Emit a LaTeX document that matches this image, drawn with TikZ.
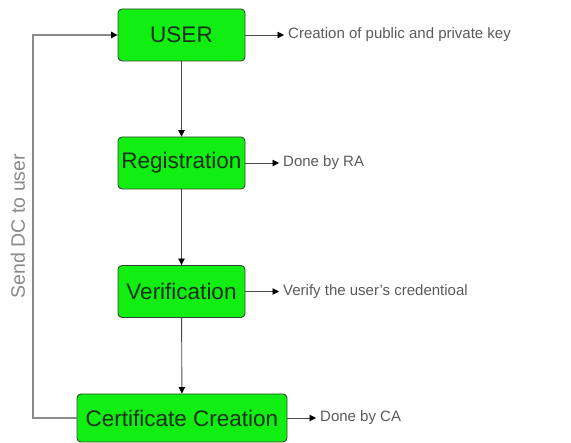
\documentclass[tikz,border=0pt]{standalone}
\usepackage{fontspec}
\setmainfont{Liberation Sans}
\usetikzlibrary{arrows.meta}
\definecolor{boxgreen}{HTML}{11EE11}
\definecolor{boxedge}{HTML}{2E4A2E}
\definecolor{boxtext}{HTML}{143014}
\definecolor{notetext}{HTML}{5A5A5A}
\definecolor{wire}{HTML}{4A4A4A}
\definecolor{loopwire}{HTML}{8A8A8A}
\tikzset{
  stage/.style={draw=boxedge, line width=0.9pt, fill=boxgreen, rounded corners=4pt,
    text=boxtext, font=\fontsize{22.5}{24}\selectfont, inner sep=0pt,
    minimum width=127pt, minimum height=52pt},
  note/.style={text=notetext, font=\fontsize{15}{17}\selectfont, anchor=west, inner sep=4pt},
  flow/.style={draw=wire, line width=0.9pt, -{Triangle[length=6.5pt,width=6.5pt,color=black]}},
  back/.style={draw=loopwire, line width=1.4pt, -{Triangle[length=6.5pt,width=6.5pt,color=black]}},
}
\begin{document}
\begin{tikzpicture}[x=1pt, y=-1pt]
\useasboundingbox (0,0) rectangle (571,443);

% processing stages
\node[stage] (user) at (181.5,35) {USER};
\node[stage] (reg)  at (181.5,163) {Registration};
\node[stage] (ver)  at (181.5,291.5) {Verification};
\node[stage, minimum width=210pt, minimum height=48pt] (cert) at (182,418) {Certificate Creation};

% side notes
\node[note] (n1) at (284,35) {Creation of public and private key};
\node[note] (n2) at (279,163) {Done by RA};
\node[note] (n3) at (279,291.5) {Verify the user{\char"27}s credentioal};
\node[note] (n4) at (316,418) {Done by CA};

% main flow
\draw[flow] (user) -- (reg);
\draw[flow] (reg) -- (ver);
\draw[flow] (ver) -- (cert);

% notes
\draw[flow] (user.east) -- (n1.west);
\draw[flow] (reg.east) -- (n2.west);
\draw[flow] (ver.east) -- (n3.west);
\draw[flow] (cert.east) -- (n4.west);

% certificate returned to the user
\coordinate (lb) at (33,418);
\coordinate (lt) at (33,35);
\draw[back] (cert.west) -- (lb) -- (lt) -- (user.west);
\node[rotate=90, text=loopwire, font=\fontsize{19.5}{21}\selectfont, inner sep=0pt] (lbl) at (18,226) {Send DC to user};
\end{tikzpicture}
\end{document}
